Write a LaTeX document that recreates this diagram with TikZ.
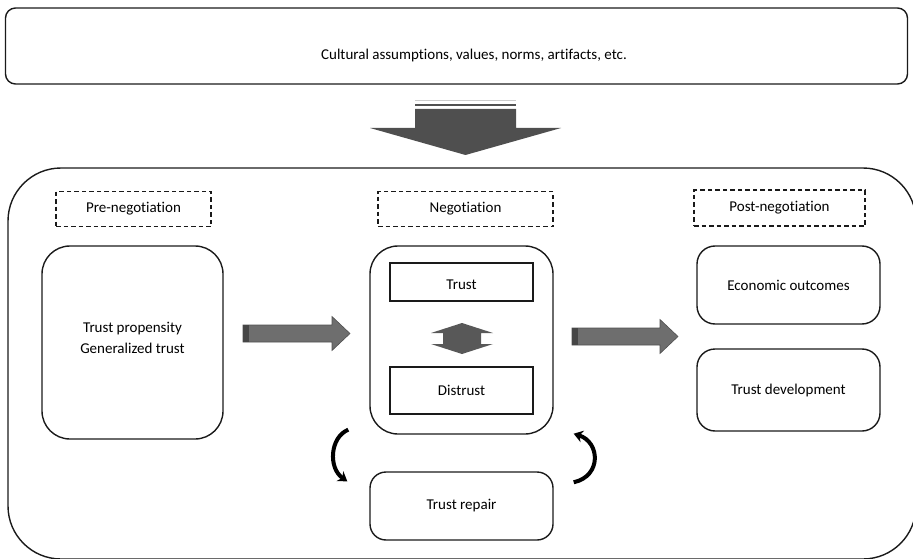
\documentclass[tikz,border=0pt]{standalone}
\usepackage{fontspec}
\setmainfont{Carlito}[Ligatures=CommonOff]
\usetikzlibrary{arrows.meta,calc}
\definecolor{linec}{HTML}{1A1A1A}
\definecolor{arrowfill}{HTML}{6E6E6E}
\definecolor{arrowline}{HTML}{505050}
\definecolor{arrowdark}{HTML}{464646}
\definecolor{bigfill}{HTML}{4F4F4F}
\newcommand\myrarrow[2]{%
  \begin{scope}[shift={(#1)}]
    \filldraw[fill=arrowfill, draw=arrowline, line width=0.6pt]
      (0,-8.5) -- (#2-18,-8.5) -- (#2-18,-17) -- (#2,0) -- (#2-18,17) -- (#2-18,8.5) -- (0,8.5) -- cycle;
    \fill[arrowdark] (0,-8.5) rectangle (6,8.5);
  \end{scope}}
\begin{document}
\begin{tikzpicture}[x=1pt,y=-1pt,
  txt/.style={font=\fontsize{15}{21}\selectfont, text=black, align=center},
  rbox/.style={draw=linec, line width=1.4pt, inner sep=0pt, txt},
  dbox/.style={draw=linec, line width=1.1pt, dash pattern=on 4.5pt off 3pt, inner sep=0pt, txt},
  curvy/.style={draw=black, line width=4pt, -{Stealth[length=9pt,width=12pt]}}
  ]
  \useasboundingbox (0,0) rectangle (913,559);
  \clip (0,0) rectangle (913,559);

  % top box
  \node[rbox, rounded corners=10pt, minimum width=902pt, minimum height=76pt] (culture) at (456.5,46) {};
  \node[txt, inner sep=0pt] (culturetext) at (474,56) {Cultural assumptions, values, norms, artifacts, etc.};

  % big down arrow
  \coordinate (bigtop) at (465.5,109);
  \draw[black!20, line width=1pt] (415,101) -- (516,101);
  \draw[arrowline, line width=1.6pt] (415,105) -- (516,105);
  \fill[bigfill] (415,109) -- (516,109) -- (516,128) -- (561,128) -- (465.5,155) -- (370,128) -- (415,128) -- cycle;

  % frame
  \node[draw=linec, line width=1.4pt, rounded corners=53pt, minimum width=908pt, minimum height=391pt, inner sep=0pt] (frame) at (462,363.5) {};

  % dashed headers
  \node[dbox, minimum width=155pt, minimum height=35pt] (pre) at (133.5,209) {Pre-negotiation};
  \node[dbox, minimum width=175pt, minimum height=35pt] (negh) at (465.5,209) {Negotiation};
  \node[dbox, minimum width=171pt, minimum height=36pt] (post) at (779.5,208) {Post-negotiation};

  % left box
  \node[rbox, rounded corners=28pt, minimum width=181pt, minimum height=193pt] (prop) at (132.5,342.5) {};
  \node[txt, inner sep=0pt] (proptext) at (132.5,338) {Trust propensity\\Generalized trust};

  % centre box
  \node[rbox, rounded corners=28pt, minimum width=183pt, minimum height=188pt] (neg) at (461.5,340) {};
  \node[rbox, line width=1.2pt, minimum width=143pt, minimum height=38pt] (trust) at (461.5,282) {};
  \node[txt, inner sep=0pt] (trusttext) at (461.5,285) {Trust};
  \node[rbox, line width=1.2pt, minimum width=143pt, minimum height=47pt] (distrust) at (461.5,390.5) {Distrust};

  % double arrow
  \fill[bigfill!95] (462,323) -- (493,333) -- (481,333) -- (481,344) -- (493,344) -- (462,354) -- (431,344) -- (443,344) -- (443,333) -- (431,333) -- cycle;

  % right boxes
  \node[rbox, rounded corners=18pt, minimum width=183pt, minimum height=78pt] (econ) at (788.5,285) {Economic outcomes};
  \node[rbox, rounded corners=18pt, minimum width=183pt, minimum height=82pt] (tdev) at (788.5,390) {Trust development};

  % trust repair
  \node[rbox, rounded corners=16pt, minimum width=183pt, minimum height=68pt] (repair) at (461.5,506) {Trust repair};

  % block arrows
  \coordinate (a1) at (243,333.5);
  \coordinate (a2) at (572,336.5);
  \myrarrow{a1}{107}
  \myrarrow{a2}{106}

  % curved arrows
  \coordinate (l1) at ($(neg.south west)+(-21,-5)$);
  \coordinate (l2) at ($(repair.north west)+(-22,10)$);
  \coordinate (r1) at ($(repair.north east)+(20,11)$);
  \coordinate (r2) at ($(neg.south east)+(20,-1)$);
  \draw[curvy] (l1) .. controls (330,437) and (328,468) .. (l2);
  \draw[curvy] (r1) .. controls (602,476) and (600,442) .. (r2);
\end{tikzpicture}
\end{document}
